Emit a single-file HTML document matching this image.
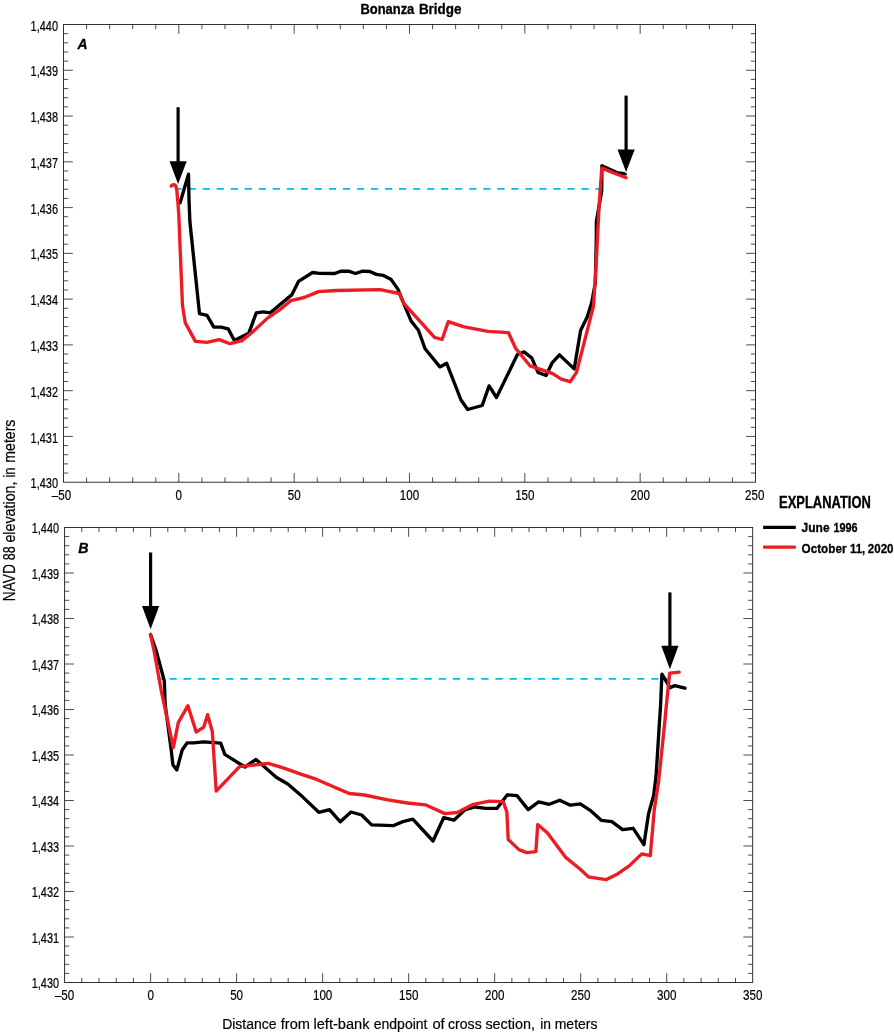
<!DOCTYPE html>
<html lang="en"><head><meta charset="utf-8"><title>Bonanza Bridge</title>
<style>
html,body{margin:0;padding:0;background:#fff}
svg{display:block;will-change:transform}
svg text{font-family:"Liberation Sans", sans-serif}
</style></head>
<body>
<svg width="894" height="1034" viewBox="0 0 894 1034">
<rect width="894" height="1034" fill="#fff"/>
<path d="M86.57 482.20v-4.70M86.57 24.50v4.70M109.63 482.20v-4.70M109.63 24.50v4.70M132.70 482.20v-4.70M132.70 24.50v4.70M155.77 482.20v-4.70M155.77 24.50v4.70M178.83 482.20v-9.30M178.83 24.50v9.30M201.90 482.20v-4.70M201.90 24.50v4.70M224.97 482.20v-4.70M224.97 24.50v4.70M248.03 482.20v-4.70M248.03 24.50v4.70M271.10 482.20v-4.70M271.10 24.50v4.70M294.17 482.20v-9.30M294.17 24.50v9.30M317.23 482.20v-4.70M317.23 24.50v4.70M340.30 482.20v-4.70M340.30 24.50v4.70M363.37 482.20v-4.70M363.37 24.50v4.70M386.43 482.20v-4.70M386.43 24.50v4.70M409.50 482.20v-9.30M409.50 24.50v9.30M432.57 482.20v-4.70M432.57 24.50v4.70M455.63 482.20v-4.70M455.63 24.50v4.70M478.70 482.20v-4.70M478.70 24.50v4.70M501.77 482.20v-4.70M501.77 24.50v4.70M524.83 482.20v-9.30M524.83 24.50v9.30M547.90 482.20v-4.70M547.90 24.50v4.70M570.97 482.20v-4.70M570.97 24.50v4.70M594.03 482.20v-4.70M594.03 24.50v4.70M617.10 482.20v-4.70M617.10 24.50v4.70M640.17 482.20v-9.30M640.17 24.50v9.30M663.23 482.20v-4.70M663.23 24.50v4.70M686.30 482.20v-4.70M686.30 24.50v4.70M709.37 482.20v-4.70M709.37 24.50v4.70M732.43 482.20v-4.70M732.43 24.50v4.70M63.50 473.05h4.70M755.50 473.05h-4.70M63.50 463.89h4.70M755.50 463.89h-4.70M63.50 454.74h4.70M755.50 454.74h-4.70M63.50 445.58h4.70M755.50 445.58h-4.70M63.50 436.43h9.30M755.50 436.43h-9.30M63.50 427.28h4.70M755.50 427.28h-4.70M63.50 418.12h4.70M755.50 418.12h-4.70M63.50 408.97h4.70M755.50 408.97h-4.70M63.50 399.81h4.70M755.50 399.81h-4.70M63.50 390.66h9.30M755.50 390.66h-9.30M63.50 381.51h4.70M755.50 381.51h-4.70M63.50 372.35h4.70M755.50 372.35h-4.70M63.50 363.20h4.70M755.50 363.20h-4.70M63.50 354.04h4.70M755.50 354.04h-4.70M63.50 344.89h9.30M755.50 344.89h-9.30M63.50 335.74h4.70M755.50 335.74h-4.70M63.50 326.58h4.70M755.50 326.58h-4.70M63.50 317.43h4.70M755.50 317.43h-4.70M63.50 308.27h4.70M755.50 308.27h-4.70M63.50 299.12h9.30M755.50 299.12h-9.30M63.50 289.97h4.70M755.50 289.97h-4.70M63.50 280.81h4.70M755.50 280.81h-4.70M63.50 271.66h4.70M755.50 271.66h-4.70M63.50 262.50h4.70M755.50 262.50h-4.70M63.50 253.35h9.30M755.50 253.35h-9.30M63.50 244.20h4.70M755.50 244.20h-4.70M63.50 235.04h4.70M755.50 235.04h-4.70M63.50 225.89h4.70M755.50 225.89h-4.70M63.50 216.73h4.70M755.50 216.73h-4.70M63.50 207.58h9.30M755.50 207.58h-9.30M63.50 198.43h4.70M755.50 198.43h-4.70M63.50 189.27h4.70M755.50 189.27h-4.70M63.50 180.12h4.70M755.50 180.12h-4.70M63.50 170.96h4.70M755.50 170.96h-4.70M63.50 161.81h9.30M755.50 161.81h-9.30M63.50 152.66h4.70M755.50 152.66h-4.70M63.50 143.50h4.70M755.50 143.50h-4.70M63.50 134.35h4.70M755.50 134.35h-4.70M63.50 125.19h4.70M755.50 125.19h-4.70M63.50 116.04h9.30M755.50 116.04h-9.30M63.50 106.89h4.70M755.50 106.89h-4.70M63.50 97.73h4.70M755.50 97.73h-4.70M63.50 88.58h4.70M755.50 88.58h-4.70M63.50 79.42h4.70M755.50 79.42h-4.70M63.50 70.27h9.30M755.50 70.27h-9.30M63.50 61.12h4.70M755.50 61.12h-4.70M63.50 51.96h4.70M755.50 51.96h-4.70M63.50 42.81h4.70M755.50 42.81h-4.70M63.50 33.65h4.70M755.50 33.65h-4.70" fill="none" stroke="#231f20" stroke-width="0.8"/>
<rect x="63.50" y="24.50" width="692.00" height="457.70" fill="none" stroke="#231f20" stroke-width="0.92"/>
<path d="M81.80 982.50v-4.70M81.80 527.50v4.70M99.00 982.50v-4.70M99.00 527.50v4.70M116.21 982.50v-4.70M116.21 527.50v4.70M133.41 982.50v-4.70M133.41 527.50v4.70M150.61 982.50v-9.30M150.61 527.50v9.30M167.81 982.50v-4.70M167.81 527.50v4.70M185.02 982.50v-4.70M185.02 527.50v4.70M202.22 982.50v-4.70M202.22 527.50v4.70M219.42 982.50v-4.70M219.42 527.50v4.70M236.62 982.50v-9.30M236.62 527.50v9.30M253.83 982.50v-4.70M253.83 527.50v4.70M271.03 982.50v-4.70M271.03 527.50v4.70M288.23 982.50v-4.70M288.23 527.50v4.70M305.44 982.50v-4.70M305.44 527.50v4.70M322.64 982.50v-9.30M322.64 527.50v9.30M339.84 982.50v-4.70M339.84 527.50v4.70M357.04 982.50v-4.70M357.04 527.50v4.70M374.25 982.50v-4.70M374.25 527.50v4.70M391.45 982.50v-4.70M391.45 527.50v4.70M408.65 982.50v-9.30M408.65 527.50v9.30M425.85 982.50v-4.70M425.85 527.50v4.70M443.05 982.50v-4.70M443.05 527.50v4.70M460.26 982.50v-4.70M460.26 527.50v4.70M477.46 982.50v-4.70M477.46 527.50v4.70M494.66 982.50v-9.30M494.66 527.50v9.30M511.87 982.50v-4.70M511.87 527.50v4.70M529.07 982.50v-4.70M529.07 527.50v4.70M546.27 982.50v-4.70M546.27 527.50v4.70M563.47 982.50v-4.70M563.47 527.50v4.70M580.68 982.50v-9.30M580.68 527.50v9.30M597.88 982.50v-4.70M597.88 527.50v4.70M615.08 982.50v-4.70M615.08 527.50v4.70M632.28 982.50v-4.70M632.28 527.50v4.70M649.49 982.50v-4.70M649.49 527.50v4.70M666.69 982.50v-9.30M666.69 527.50v9.30M683.89 982.50v-4.70M683.89 527.50v4.70M701.09 982.50v-4.70M701.09 527.50v4.70M718.30 982.50v-4.70M718.30 527.50v4.70M735.50 982.50v-4.70M735.50 527.50v4.70M64.60 973.40h4.70M752.70 973.40h-4.70M64.60 964.30h4.70M752.70 964.30h-4.70M64.60 955.20h4.70M752.70 955.20h-4.70M64.60 946.10h4.70M752.70 946.10h-4.70M64.60 937.00h9.30M752.70 937.00h-9.30M64.60 927.90h4.70M752.70 927.90h-4.70M64.60 918.80h4.70M752.70 918.80h-4.70M64.60 909.70h4.70M752.70 909.70h-4.70M64.60 900.60h4.70M752.70 900.60h-4.70M64.60 891.50h9.30M752.70 891.50h-9.30M64.60 882.40h4.70M752.70 882.40h-4.70M64.60 873.30h4.70M752.70 873.30h-4.70M64.60 864.20h4.70M752.70 864.20h-4.70M64.60 855.10h4.70M752.70 855.10h-4.70M64.60 846.00h9.30M752.70 846.00h-9.30M64.60 836.90h4.70M752.70 836.90h-4.70M64.60 827.80h4.70M752.70 827.80h-4.70M64.60 818.70h4.70M752.70 818.70h-4.70M64.60 809.60h4.70M752.70 809.60h-4.70M64.60 800.50h9.30M752.70 800.50h-9.30M64.60 791.40h4.70M752.70 791.40h-4.70M64.60 782.30h4.70M752.70 782.30h-4.70M64.60 773.20h4.70M752.70 773.20h-4.70M64.60 764.10h4.70M752.70 764.10h-4.70M64.60 755.00h9.30M752.70 755.00h-9.30M64.60 745.90h4.70M752.70 745.90h-4.70M64.60 736.80h4.70M752.70 736.80h-4.70M64.60 727.70h4.70M752.70 727.70h-4.70M64.60 718.60h4.70M752.70 718.60h-4.70M64.60 709.50h9.30M752.70 709.50h-9.30M64.60 700.40h4.70M752.70 700.40h-4.70M64.60 691.30h4.70M752.70 691.30h-4.70M64.60 682.20h4.70M752.70 682.20h-4.70M64.60 673.10h4.70M752.70 673.10h-4.70M64.60 664.00h9.30M752.70 664.00h-9.30M64.60 654.90h4.70M752.70 654.90h-4.70M64.60 645.80h4.70M752.70 645.80h-4.70M64.60 636.70h4.70M752.70 636.70h-4.70M64.60 627.60h4.70M752.70 627.60h-4.70M64.60 618.50h9.30M752.70 618.50h-9.30M64.60 609.40h4.70M752.70 609.40h-4.70M64.60 600.30h4.70M752.70 600.30h-4.70M64.60 591.20h4.70M752.70 591.20h-4.70M64.60 582.10h4.70M752.70 582.10h-4.70M64.60 573.00h9.30M752.70 573.00h-9.30M64.60 563.90h4.70M752.70 563.90h-4.70M64.60 554.80h4.70M752.70 554.80h-4.70M64.60 545.70h4.70M752.70 545.70h-4.70M64.60 536.60h4.70M752.70 536.60h-4.70" fill="none" stroke="#231f20" stroke-width="0.8"/>
<rect x="64.60" y="527.50" width="688.10" height="455.00" fill="none" stroke="#231f20" stroke-width="0.92"/>
<text transform="translate(58.00 488.30) scale(0.7400 1)" font-size="14.8" font-weight="normal" font-style="normal" text-anchor="end" fill="#000" stroke="#000" stroke-width="0.22">1,430</text>
<text transform="translate(58.00 442.53) scale(0.7400 1)" font-size="14.8" font-weight="normal" font-style="normal" text-anchor="end" fill="#000" stroke="#000" stroke-width="0.22">1,431</text>
<text transform="translate(58.00 396.76) scale(0.7400 1)" font-size="14.8" font-weight="normal" font-style="normal" text-anchor="end" fill="#000" stroke="#000" stroke-width="0.22">1,432</text>
<text transform="translate(58.00 350.99) scale(0.7400 1)" font-size="14.8" font-weight="normal" font-style="normal" text-anchor="end" fill="#000" stroke="#000" stroke-width="0.22">1,433</text>
<text transform="translate(58.00 305.22) scale(0.7400 1)" font-size="14.8" font-weight="normal" font-style="normal" text-anchor="end" fill="#000" stroke="#000" stroke-width="0.22">1,434</text>
<text transform="translate(58.00 259.45) scale(0.7400 1)" font-size="14.8" font-weight="normal" font-style="normal" text-anchor="end" fill="#000" stroke="#000" stroke-width="0.22">1,435</text>
<text transform="translate(58.00 213.68) scale(0.7400 1)" font-size="14.8" font-weight="normal" font-style="normal" text-anchor="end" fill="#000" stroke="#000" stroke-width="0.22">1,436</text>
<text transform="translate(58.00 167.91) scale(0.7400 1)" font-size="14.8" font-weight="normal" font-style="normal" text-anchor="end" fill="#000" stroke="#000" stroke-width="0.22">1,437</text>
<text transform="translate(58.00 122.14) scale(0.7400 1)" font-size="14.8" font-weight="normal" font-style="normal" text-anchor="end" fill="#000" stroke="#000" stroke-width="0.22">1,438</text>
<text transform="translate(58.00 76.37) scale(0.7400 1)" font-size="14.8" font-weight="normal" font-style="normal" text-anchor="end" fill="#000" stroke="#000" stroke-width="0.22">1,439</text>
<text transform="translate(58.00 30.60) scale(0.7400 1)" font-size="14.8" font-weight="normal" font-style="normal" text-anchor="end" fill="#000" stroke="#000" stroke-width="0.22">1,440</text>
<text transform="translate(61.50 500.40) scale(0.7844 1)" font-size="14.8" font-weight="normal" font-style="normal" text-anchor="middle" fill="#000" stroke="#000" stroke-width="0.22">–50</text>
<text transform="translate(178.83 500.40) scale(0.7844 1)" font-size="14.8" font-weight="normal" font-style="normal" text-anchor="middle" fill="#000" stroke="#000" stroke-width="0.22">0</text>
<text transform="translate(294.17 500.40) scale(0.7844 1)" font-size="14.8" font-weight="normal" font-style="normal" text-anchor="middle" fill="#000" stroke="#000" stroke-width="0.22">50</text>
<text transform="translate(409.50 500.40) scale(0.7844 1)" font-size="14.8" font-weight="normal" font-style="normal" text-anchor="middle" fill="#000" stroke="#000" stroke-width="0.22">100</text>
<text transform="translate(524.83 500.40) scale(0.7844 1)" font-size="14.8" font-weight="normal" font-style="normal" text-anchor="middle" fill="#000" stroke="#000" stroke-width="0.22">150</text>
<text transform="translate(640.17 500.40) scale(0.7844 1)" font-size="14.8" font-weight="normal" font-style="normal" text-anchor="middle" fill="#000" stroke="#000" stroke-width="0.22">200</text>
<text transform="translate(754.70 500.40) scale(0.7844 1)" font-size="14.8" font-weight="normal" font-style="normal" text-anchor="middle" fill="#000" stroke="#000" stroke-width="0.22">250</text>
<text transform="translate(59.10 988.20) scale(0.7400 1)" font-size="14.8" font-weight="normal" font-style="normal" text-anchor="end" fill="#000" stroke="#000" stroke-width="0.22">1,430</text>
<text transform="translate(59.10 942.70) scale(0.7400 1)" font-size="14.8" font-weight="normal" font-style="normal" text-anchor="end" fill="#000" stroke="#000" stroke-width="0.22">1,431</text>
<text transform="translate(59.10 897.20) scale(0.7400 1)" font-size="14.8" font-weight="normal" font-style="normal" text-anchor="end" fill="#000" stroke="#000" stroke-width="0.22">1,432</text>
<text transform="translate(59.10 851.70) scale(0.7400 1)" font-size="14.8" font-weight="normal" font-style="normal" text-anchor="end" fill="#000" stroke="#000" stroke-width="0.22">1,433</text>
<text transform="translate(59.10 806.20) scale(0.7400 1)" font-size="14.8" font-weight="normal" font-style="normal" text-anchor="end" fill="#000" stroke="#000" stroke-width="0.22">1,434</text>
<text transform="translate(59.10 760.70) scale(0.7400 1)" font-size="14.8" font-weight="normal" font-style="normal" text-anchor="end" fill="#000" stroke="#000" stroke-width="0.22">1,435</text>
<text transform="translate(59.10 715.20) scale(0.7400 1)" font-size="14.8" font-weight="normal" font-style="normal" text-anchor="end" fill="#000" stroke="#000" stroke-width="0.22">1,436</text>
<text transform="translate(59.10 669.70) scale(0.7400 1)" font-size="14.8" font-weight="normal" font-style="normal" text-anchor="end" fill="#000" stroke="#000" stroke-width="0.22">1,437</text>
<text transform="translate(59.10 624.20) scale(0.7400 1)" font-size="14.8" font-weight="normal" font-style="normal" text-anchor="end" fill="#000" stroke="#000" stroke-width="0.22">1,438</text>
<text transform="translate(59.10 578.70) scale(0.7400 1)" font-size="14.8" font-weight="normal" font-style="normal" text-anchor="end" fill="#000" stroke="#000" stroke-width="0.22">1,439</text>
<text transform="translate(59.10 533.20) scale(0.7400 1)" font-size="14.8" font-weight="normal" font-style="normal" text-anchor="end" fill="#000" stroke="#000" stroke-width="0.22">1,440</text>
<text transform="translate(64.60 1000.40) scale(0.7844 1)" font-size="14.8" font-weight="normal" font-style="normal" text-anchor="middle" fill="#000" stroke="#000" stroke-width="0.22">–50</text>
<text transform="translate(150.61 1000.40) scale(0.7844 1)" font-size="14.8" font-weight="normal" font-style="normal" text-anchor="middle" fill="#000" stroke="#000" stroke-width="0.22">0</text>
<text transform="translate(236.62 1000.40) scale(0.7844 1)" font-size="14.8" font-weight="normal" font-style="normal" text-anchor="middle" fill="#000" stroke="#000" stroke-width="0.22">50</text>
<text transform="translate(322.64 1000.40) scale(0.7844 1)" font-size="14.8" font-weight="normal" font-style="normal" text-anchor="middle" fill="#000" stroke="#000" stroke-width="0.22">100</text>
<text transform="translate(408.65 1000.40) scale(0.7844 1)" font-size="14.8" font-weight="normal" font-style="normal" text-anchor="middle" fill="#000" stroke="#000" stroke-width="0.22">150</text>
<text transform="translate(494.66 1000.40) scale(0.7844 1)" font-size="14.8" font-weight="normal" font-style="normal" text-anchor="middle" fill="#000" stroke="#000" stroke-width="0.22">200</text>
<text transform="translate(580.68 1000.40) scale(0.7844 1)" font-size="14.8" font-weight="normal" font-style="normal" text-anchor="middle" fill="#000" stroke="#000" stroke-width="0.22">250</text>
<text transform="translate(666.69 1000.40) scale(0.7844 1)" font-size="14.8" font-weight="normal" font-style="normal" text-anchor="middle" fill="#000" stroke="#000" stroke-width="0.22">300</text>
<text transform="translate(752.70 1000.40) scale(0.7844 1)" font-size="14.8" font-weight="normal" font-style="normal" text-anchor="middle" fill="#000" stroke="#000" stroke-width="0.22">350</text>
<path d="M177.00 188.90H599.50" stroke="#00bbf3" stroke-width="1.8" stroke-dasharray="7.2 6.83" stroke-dashoffset="2.43" fill="none"/>
<polyline points="180.1,202.8 188.5,174.2 189.0,200.0 189.9,221.5 194.4,265.0 199.5,313.6 207.0,315.4 213.8,327.1 221.0,327.1 228.2,328.9 234.4,340.5 248.7,333.3 256.3,312.8 263.1,311.9 270.2,312.8 291.7,294.9 298.5,281.4 312.6,272.5 319.4,273.4 334.7,273.5 341.1,271.2 348.6,271.2 355.4,273.5 362.6,271.2 369.8,271.5 376.4,274.4 383.0,275.3 391.2,279.6 397.9,289.1 404.1,304.3 411.3,321.3 418.4,330.2 425.1,348.7 439.9,366.9 446.7,363.3 461.0,400.0 467.7,409.5 482.2,405.5 489.1,385.9 496.5,397.5 517.4,354.5 524.0,351.9 531.7,357.8 538.0,372.4 546.1,375.5 552.3,362.6 559.5,354.9 574.2,368.9 580.6,330.4 587.2,317.0 591.7,302.6 595.3,283.0 596.3,240.0 596.4,221.4 601.7,191.0 601.9,165.7 616.8,172.6 625.4,173.9" fill="none" stroke="#000000" stroke-width="3.35" stroke-linejoin="round" stroke-linecap="round"/>
<path d="M169.50 161.30H186.70L178.10 183.90Z" fill="#000" stroke="#fff" stroke-width="1.6" stroke-linejoin="miter"/>
<path d="M178.10 107.20V163.30" stroke="#000" stroke-width="3.2" fill="none"/>
<path d="M169.50 161.30H186.70L178.10 183.90Z" fill="#000"/>
<path d="M617.50 149.40H634.70L626.10 172.00Z" fill="#000" stroke="#fff" stroke-width="1.6" stroke-linejoin="miter"/>
<path d="M626.10 95.60V151.40" stroke="#000" stroke-width="3.2" fill="none"/>
<path d="M617.50 149.40H634.70L626.10 172.00Z" fill="#000"/>
<polyline points="171.2,186.0 172.3,185.0 173.6,184.6 175.0,185.0 176.0,186.6 176.8,190.0 177.4,197.0 177.9,202.3 178.8,215.0 180.8,265.0 182.5,305.6 185.2,322.6 195.4,341.4 207.0,342.3 219.2,339.6 230.0,343.7 241.6,340.9 254.1,330.6 267.5,318.1 279.2,310.1 290.8,300.6 304.2,297.5 318.5,291.6 336.1,290.5 380.0,289.6 399.3,293.5 403.8,303.4 434.5,337.4 442.1,339.5 448.3,321.6 463.2,326.6 487.9,331.3 508.5,332.7 515.6,348.3 530.0,365.8 552.3,373.3 561.3,379.2 570.2,381.7 576.5,372.4 593.5,306.2 595.8,270.4 597.4,240.0 599.1,205.3 601.8,168.1 626.0,177.8" fill="none" stroke="#ed1c24" stroke-width="3.35" stroke-linejoin="round" stroke-linecap="round"/>
<path d="M157.50 678.95H669.40" stroke="#00bbf3" stroke-width="1.8" stroke-dasharray="7.2 6.97" stroke-dashoffset="2.17" fill="none"/>
<polyline points="150.5,634.5 156.0,650.0 164.3,681.0 165.2,705.0 171.1,749.1 172.9,764.8 176.8,770.0 182.2,750.0 187.2,742.8 193.8,742.8 203.7,741.9 220.7,743.2 224.8,754.4 244.9,767.0 256.0,759.4 276.2,777.3 287.8,784.0 300.0,794.4 318.8,812.3 329.5,809.6 340.3,821.8 351.0,812.0 361.7,815.0 371.6,824.9 393.1,825.7 402.9,821.6 412.8,819.1 433.0,841.0 443.7,817.7 453.9,820.2 465.2,809.6 475.1,807.0 485.8,808.4 496.9,808.4 507.3,794.8 517.1,795.7 528.2,809.6 538.6,801.9 549.3,804.3 559.7,800.2 570.3,805.2 580.3,803.9 590.2,810.3 601.2,820.3 611.9,821.7 622.6,829.7 633.2,828.3 643.9,844.7 648.5,814.0 653.7,795.2 656.1,775.5 659.6,720.0 660.6,705.0 661.9,674.2 670.0,687.7 674.7,685.6 685.0,688.2" fill="none" stroke="#000000" stroke-width="3.35" stroke-linejoin="round" stroke-linecap="round"/>
<path d="M142.00 605.90H159.20L150.60 629.30Z" fill="#000" stroke="#fff" stroke-width="1.6" stroke-linejoin="miter"/>
<path d="M150.60 552.50V607.90" stroke="#000" stroke-width="3.2" fill="none"/>
<path d="M142.00 605.90H159.20L150.60 629.30Z" fill="#000"/>
<path d="M661.30 645.70H678.50L669.90 669.30Z" fill="#000" stroke="#fff" stroke-width="1.6" stroke-linejoin="miter"/>
<path d="M669.90 592.40V647.70" stroke="#000" stroke-width="3.2" fill="none"/>
<path d="M661.30 645.70H678.50L669.90 669.30Z" fill="#000"/>
<polyline points="150.5,634.5 153.9,650.0 161.1,690.0 173.3,747.6 178.3,722.6 187.9,705.7 196.2,732.1 203.7,727.2 207.6,714.7 212.3,731.5 216.2,791.1 239.5,766.6 268.1,763.4 283.3,767.9 300.0,773.8 316.1,779.2 349.2,793.5 364.4,795.0 387.7,799.8 407.4,803.0 425.3,804.8 445.0,813.6 457.2,812.5 473.3,804.3 489.4,801.2 503.2,801.6 506.9,812.3 508.2,839.5 518.9,849.6 526.6,852.6 535.9,851.7 537.7,824.5 547.5,832.9 565.4,857.1 580.0,869.0 588.4,876.9 606.0,879.7 617.6,873.9 629.2,865.9 641.7,853.9 650.3,855.7 654.3,809.5 658.7,780.9 665.0,720.0 666.4,705.0 669.7,673.1 679.2,672.2" fill="none" stroke="#ed1c24" stroke-width="3.35" stroke-linejoin="round" stroke-linecap="round"/>
<text transform="translate(0.00 13.80)" font-size="15.5" font-weight="bold" fill="#000" stroke="#000" stroke-width="0.35"><tspan x="360.50" textLength="53.80" lengthAdjust="spacingAndGlyphs">Bonanza</tspan> <tspan x="418.90" textLength="42.60" lengthAdjust="spacingAndGlyphs">Bridge</tspan></text>
<text transform="translate(77.50 49.00) scale(0.9000 1)" font-size="15.5" font-weight="bold" font-style="italic" text-anchor="start" fill="#000" stroke="#000" stroke-width="0.3">A</text>
<text transform="translate(78.20 552.60) scale(0.9200 1)" font-size="15.5" font-weight="bold" font-style="italic" text-anchor="start" fill="#000" stroke="#000" stroke-width="0.3">B</text>
<text transform="translate(779.10 507.50) scale(0.8240 1)" font-size="15.7" font-weight="bold" font-style="normal" text-anchor="start" fill="#000" stroke="#000" stroke-width="0.35">EXPLANATION</text>
<text transform="translate(0.00 532.00)" font-size="12.9" font-weight="bold" fill="#000" stroke="#000" stroke-width="0.3"><tspan x="801.60" textLength="28.00" lengthAdjust="spacingAndGlyphs">June</tspan> <tspan x="833.50" textLength="24.10" lengthAdjust="spacingAndGlyphs">1996</tspan></text>
<text transform="translate(0.00 553.00)" font-size="12.9" font-weight="bold" fill="#000" stroke="#000" stroke-width="0.3"><tspan x="801.60" textLength="44.90" lengthAdjust="spacingAndGlyphs">October</tspan> <tspan x="850.10" textLength="15.20" lengthAdjust="spacingAndGlyphs">11,</tspan> <tspan x="867.80" textLength="25.70" lengthAdjust="spacingAndGlyphs">2020</tspan></text>
<path d="M763.1 527.4H795.8" stroke="#000000" stroke-width="3.3" fill="none"/>
<path d="M763.1 547.1H795.8" stroke="#ed1c24" stroke-width="3.3" fill="none"/>
<text transform="translate(0.00 1028.70)" font-size="15.5" font-weight="normal" fill="#000" stroke="#000" stroke-width="0.2"><tspan x="222.20" textLength="54.30" lengthAdjust="spacingAndGlyphs">Distance</tspan> <tspan x="280.80" textLength="29.20" lengthAdjust="spacingAndGlyphs">from</tspan> <tspan x="313.50" textLength="56.00" lengthAdjust="spacingAndGlyphs">left-bank</tspan> <tspan x="373.70" textLength="53.80" lengthAdjust="spacingAndGlyphs">endpoint</tspan> <tspan x="432.40" textLength="12.30" lengthAdjust="spacingAndGlyphs">of</tspan> <tspan x="448.00" textLength="33.70" lengthAdjust="spacingAndGlyphs">cross</tspan> <tspan x="485.40" textLength="49.50" lengthAdjust="spacingAndGlyphs">section,</tspan> <tspan x="540.20" textLength="10.80" lengthAdjust="spacingAndGlyphs">in</tspan> <tspan x="554.70" textLength="42.80" lengthAdjust="spacingAndGlyphs">meters</tspan></text>
<text transform="translate(14.70 600.60) rotate(-90)" font-size="16.0" font-weight="normal" fill="#000" stroke="#000" stroke-width="0.2"><tspan x="-0.60" textLength="37.10" lengthAdjust="spacingAndGlyphs">NAVD</tspan> <tspan x="40.40" textLength="14.00" lengthAdjust="spacingAndGlyphs">88</tspan> <tspan x="58.00" textLength="61.10" lengthAdjust="spacingAndGlyphs">elevation,</tspan> <tspan x="123.00" textLength="10.30" lengthAdjust="spacingAndGlyphs">in</tspan> <tspan x="137.90" textLength="43.10" lengthAdjust="spacingAndGlyphs">meters</tspan></text>
</svg>
</body></html>
